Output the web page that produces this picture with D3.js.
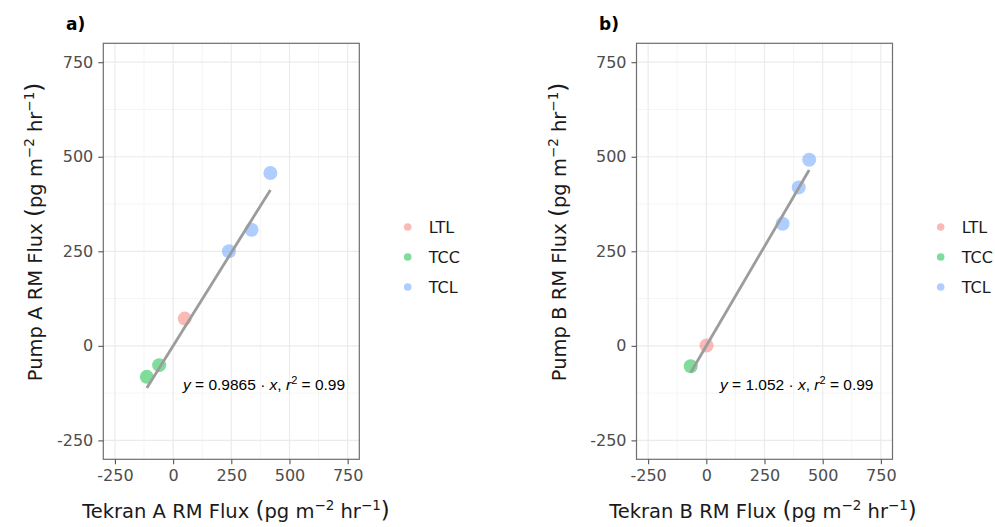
<!DOCTYPE html>
<html>
<head>
<meta charset="utf-8">
<script src="https://cdn.jsdelivr.net/npm/d3@7"></script>
<style>
  body { margin: 0; background: #fff; }
  svg { font-family: "DejaVu Sans", Arial, sans-serif; }
</style>
</head>
<body>
<div id="chart"></div>
<script>
// Series groups and colours (ggplot defaults)
const groups = ["LTL", "TCC", "TCL"];
const groupColors = ["#F8766D", "#00BA38", "#619CFF"];

// Panel a: Tekran A vs Pump A
const aX = [50, -60, -113, 240, 337, 418];
const aY = [72, -51, -82, 250, 307, 457];
const aGroup = ["LTL", "TCC", "TCC", "TCL", "TCL", "TCL"];
const aSlope = 0.9865;
const aR2 = "0.99";

// Panel b: Tekran B vs Pump B
const bX = [1, -67, 328, 397, 442];
const bY = [1, -54, 323, 419, 492];
const bGroup = ["LTL", "TCC", "TCL", "TCL", "TCL"];
const bSlope = 1.052;
const bR2 = "0.99";

// Axis ticks
const majorTicks = [-250, 0, 250, 500, 750];
const minorTicks = [-125, 125, 375, 625];
const domain = [-300, 800];

const W = 995, H = 527;
const svg = d3.select("#chart").append("svg")
  .attr("width", W)
  .attr("height", H);

const color = d3.scaleOrdinal().domain(groups).range(groupColors);

// axis title with superscript units
const unitTitle = (sel, label) => {
  sel.append("tspan").text(label + " ");
  sel.append("tspan").attr("font-size", 23).text("(");
  sel.append("tspan").text("pg m");
  sel.append("tspan").attr("font-size", 13.5).attr("dy", -8).text("\u22122");
  sel.append("tspan").attr("dy", 8).text(" hr");
  sel.append("tspan").attr("font-size", 13.5).attr("dy", -8).text("\u22121");
  sel.append("tspan").attr("font-size", 23).attr("dy", 8).text(")");
};

// draw one panel
const drawPanel = (opt) => {
  const g = svg.append("g");
  const x = d3.scaleLinear().domain(domain).range([opt.left, opt.right]);
  const y = d3.scaleLinear().domain(domain).range([opt.bottom, opt.top]);

  // grid
  g.selectAll(".minx").data(minorTicks).enter().append("line")
    .attr("x1", d => x(d)).attr("x2", d => x(d))
    .attr("y1", opt.top).attr("y2", opt.bottom)
    .attr("stroke", "#f2f2f2").attr("stroke-width", 0.8);
  g.selectAll(".miny").data(minorTicks).enter().append("line")
    .attr("y1", d => y(d)).attr("y2", d => y(d))
    .attr("x1", opt.left).attr("x2", opt.right)
    .attr("stroke", "#f2f2f2").attr("stroke-width", 0.8);
  g.selectAll(".majx").data(majorTicks).enter().append("line")
    .attr("x1", d => x(d)).attr("x2", d => x(d))
    .attr("y1", opt.top).attr("y2", opt.bottom)
    .attr("stroke", "#ebebeb").attr("stroke-width", 1.2);
  g.selectAll(".majy").data(majorTicks).enter().append("line")
    .attr("y1", d => y(d)).attr("y2", d => y(d))
    .attr("x1", opt.left).attr("x2", opt.right)
    .attr("stroke", "#ebebeb").attr("stroke-width", 1.2);

  // points
  const pts = opt.xs.map((v, i) => ({x: v, y: opt.ys[i], g: opt.gs[i]}));
  g.selectAll("circle").data(pts).enter().append("circle")
    .attr("cx", d => x(d.x))
    .attr("cy", d => y(d.y))
    .attr("r", 7)
    .attr("fill", d => color(d.g))
    .attr("fill-opacity", 0.5);

  // fit line through origin, over the data range
  const xMin = d3.min(opt.xs), xMax = d3.max(opt.xs);
  g.append("line")
    .attr("x1", x(xMin)).attr("y1", y(opt.slope * xMin))
    .attr("x2", x(xMax)).attr("y2", y(opt.slope * xMax))
    .attr("stroke", "#9c9c9c")
    .attr("stroke-width", 2.8);

  // panel border
  g.append("rect")
    .attr("x", opt.left).attr("y", opt.top)
    .attr("width", opt.right - opt.left)
    .attr("height", opt.bottom - opt.top)
    .attr("fill", "none")
    .attr("stroke", "#6e6e6e")
    .attr("stroke-width", 1.2);

  // axes
  const fmt = d => d < 0 ? "-" + Math.abs(d) : String(d);
  const xAxis = g.append("g")
    .attr("transform", "translate(0," + opt.bottom + ")")
    .call(d3.axisBottom(x).tickValues(majorTicks).tickSize(5).tickPadding(5).tickFormat(fmt));
  const yAxis = g.append("g")
    .attr("transform", "translate(" + opt.left + ",0)")
    .call(d3.axisLeft(y).tickValues(majorTicks).tickSize(5).tickPadding(5).tickFormat(fmt));
  [xAxis, yAxis].forEach(ax => {
    ax.select(".domain").remove();
    ax.selectAll(".tick line").attr("stroke", "#555").attr("stroke-width", 1.1);
    ax.selectAll(".tick text")
      .attr("fill", "#4d4d4d")
      .style("font-size", "16px")
      .style("font-family", "'DejaVu Sans', Arial, sans-serif");
  });

  // panel tag
  g.append("text")
    .attr("x", opt.tagX).attr("y", 30)
    .attr("font-size", 17).attr("font-weight", "bold")
    .text(opt.tag);

  // x title
  const xt = g.append("text")
    .attr("x", opt.xTitleX)
    .attr("y", 518)
    .attr("text-anchor", "middle")
    .attr("font-size", 19.5)
    .attr("fill", "#1a1a1a");
  unitTitle(xt, "Tekran " + opt.name + " RM Flux");

  // y title
  const yt = g.append("text")
    .attr("transform", "translate(" + opt.yTitleX + "," + 232 + ") rotate(-90)")
    .attr("text-anchor", "middle")
    .attr("font-size", 19.5)
    .attr("fill", "#1a1a1a");
  unitTitle(yt, "Pump " + opt.name + " RM Flux");

  // equation
  const eq = g.append("text")
    .attr("x", opt.eqX).attr("y", 390)
    .attr("font-size", 15.5)
    .attr("font-family", "'Liberation Sans', Arial, sans-serif")
    .attr("fill", "#000");
  eq.append("tspan").attr("font-style", "italic").text("y");
  eq.append("tspan").text(" = " + opt.slope + " \u00b7 ");
  eq.append("tspan").attr("font-style", "italic").text("x");
  eq.append("tspan").text(",  ");
  eq.append("tspan").attr("font-style", "italic").text("r");
  eq.append("tspan").attr("font-size", 11).attr("dy", -6).text("2");
  eq.append("tspan").attr("dy", 6).text(" = " + opt.r2);

  // legend
  const legY = d3.scalePoint().domain(groups).range([227, 287]);
  const leg = g.append("g");
  leg.selectAll("circle").data(groups).enter().append("circle")
    .attr("cx", opt.legX).attr("cy", d => legY(d))
    .attr("r", 3.8)
    .attr("fill", d => color(d))
    .attr("fill-opacity", 0.5);
  leg.selectAll("text").data(groups).enter().append("text")
    .attr("x", opt.legX + 21).attr("y", d => legY(d) + 6)
    .attr("font-size", 16)
    .attr("fill", "#1a1a1a")
    .text(d => d);
};

drawPanel({
  left: 103.3, right: 359.3, top: 43.3, bottom: 459.3,
  xs: aX, ys: aY, gs: aGroup, slope: aSlope, r2: aR2,
  tag: "a)", tagX: 66, name: "A", yTitleX: 42, xTitleX: 236,
  eqX: 183, legX: 407.7
});

drawPanel({
  left: 636.5, right: 892.5, top: 43.3, bottom: 459.3,
  xs: bX, ys: bY, gs: bGroup, slope: bSlope, r2: bR2,
  tag: "b)", tagX: 599, name: "B", yTitleX: 566, xTitleX: 763,
  eqX: 720, legX: 940.7
});
</script>
</body>
</html>
